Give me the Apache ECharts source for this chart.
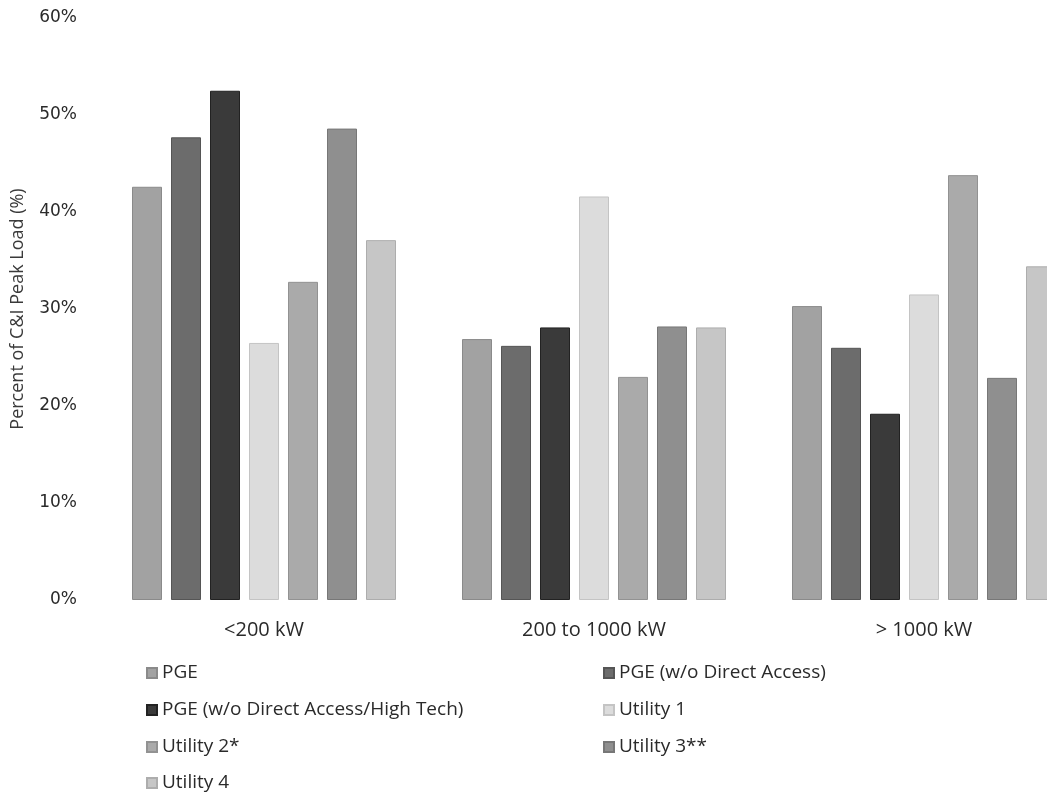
<!DOCTYPE html>
<html>
<head>
<meta charset="utf-8">
<script src="https://cdn.jsdelivr.net/npm/echarts@6/dist/echarts.min.js"></script>
<style>html,body{margin:0;padding:0;background:#fff;overflow:hidden;}#c{width:1100px;height:795px;}</style>
</head>
<body>
<div id="c"></div>
<script>
var categories = ['<200 kW', '200 to 1000 kW', '> 1000 kW'];
var seriesNames = ['PGE', 'PGE (w/o Direct Access)', 'PGE (w/o Direct Access/High Tech)', 'Utility 1', 'Utility 2*', 'Utility 3**', 'Utility 4'];
var pge = [42.6, 26.9, 30.3];
var pgeNoDA = [47.7, 26.2, 26.0];
var pgeNoDAHT = [52.5, 28.1, 19.2];
var utility1 = [26.5, 41.6, 31.5];
var utility2 = [32.8, 23.0, 43.8];
var utility3 = [48.6, 28.2, 22.9];
var utility4 = [37.1, 28.1, 34.4];
var yTicks = [0, 10, 20, 30, 40, 50, 60];

var values = [pge, pgeNoDA, pgeNoDAHT, utility1, utility2, utility3, utility4];
var colors = ['#a2a2a2', '#6c6c6c', '#3a3a3a', '#dcdcdc', '#aaaaaa', '#8f8f8f', '#c6c6c6'];
var borders = ['#8a8a8a', '#555555', '#222222', '#c4c4c4', '#929292', '#777777', '#adadad'];
// legend layout: [left, top] per series (two columns, four rows)
var legendPos = [[146, 663], [603, 663], [146, 700], [603, 700], [146, 737], [603, 737], [146, 773]];

var series = seriesNames.map(function (n, i) {
  return {
    name: n,
    type: 'bar',
    data: values[i],
    barGap: '30%',
    barCategoryGap: '20%',
    itemStyle: { color: colors[i], borderColor: borders[i], borderWidth: 1 }
  };
});

var legendText = { fontFamily: 'Open Sans', fontSize: 19, lineHeight: 20, color: '#2a2a2a' };
var legends = seriesNames.map(function (n, i) {
  return {
    data: [n], orient: 'horizontal', left: legendPos[i][0], top: legendPos[i][1],
    padding: 0, itemWidth: 10, itemHeight: 10, icon: 'rect', textStyle: legendText
  };
});

var chart = echarts.init(document.getElementById('c'));
chart.setOption({
  animation: false,
  backgroundColor: '#ffffff',
  color: colors,
  grid: { left: 99, right: 11, top: 18, bottom: 195, containLabel: false },
  legend: legends,
  xAxis: {
    type: 'category',
    data: categories,
    axisLine: { show: false },
    axisTick: { show: false },
    axisLabel: { fontFamily: 'Open Sans', fontSize: 20, color: '#2a2a2a', margin: 20 }
  },
  yAxis: {
    type: 'value',
    min: yTicks[0],
    max: yTicks[yTicks.length - 1],
    interval: 10,
    name: 'Percent of C&I Peak Load (%)',
    nameLocation: 'middle',
    nameGap: 72,
    nameTextStyle: { fontFamily: 'Open Sans', fontSize: 18, color: '#3a3a3a' },
    axisLine: { show: false },
    axisTick: { show: false },
    splitLine: { show: false },
    axisLabel: { fontFamily: 'DejaVu Sans', fontSize: 17, color: '#2a2a2a', margin: 22,
      formatter: function (v) { return v + '%'; } }
  },
  series: series
});
</script>
</body>
</html>
